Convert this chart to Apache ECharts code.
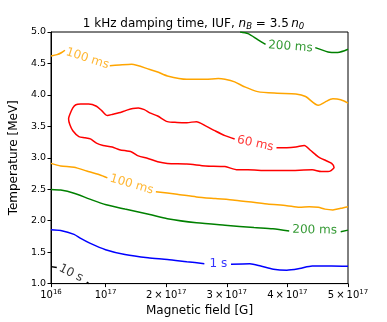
<!DOCTYPE html>
<html>
<head>
<meta charset="utf-8">
<script src="https://cdn.jsdelivr.net/npm/echarts@6/dist/echarts.min.js"></script>
<style>
html, body { margin: 0; padding: 0; background: #fff; }
#chart { width: 387px; height: 322px; }
</style>
</head>
<body>
<div id="chart"></div>
<script>
// magnetic field in units of 1e17 G, temperature in MeV
const xTicks = [0.1, 1, 2, 3, 4, 5]
const yTicks = [1.0, 1.5, 2.0, 2.5, 3.0, 3.5, 4.0, 4.5, 5.0]

// 100 ms, upper branch (split by its label)
const ms100TopA = [[0.10, 4.62], [0.20, 4.64], [0.27, 4.67], [0.33, 4.71]]
const ms100TopB = [[1.07, 4.465], [1.23, 4.476], [1.43, 4.487], [1.73, 4.403], [1.86, 4.363],
  [2.02, 4.301], [2.34, 4.248], [2.65, 4.248], [2.86, 4.259], [2.97, 4.248], [3.13, 4.207],
  [3.29, 4.13], [3.51, 4.052], [3.83, 4.026], [4.14, 4.015], [4.30, 3.974], [4.51, 3.834],
  [4.62, 3.886], [4.75, 3.937], [4.88, 3.922], [5.0, 3.87]]

// 200 ms, upper branch
const ms200TopA = [[3.22, 5.0], [3.35, 4.974], [3.51, 4.88], [3.64, 4.803]]
const ms200TopB = [[4.46, 4.751], [4.67, 4.683], [4.83, 4.674], [5.0, 4.725]]

// 60 ms, closed island (opened at its label)
const ms60Loop = [[3.82, 3.16], [3.99, 3.16], [4.14, 3.171], [4.28, 3.197], [4.38, 3.12],
  [4.51, 3.016], [4.64, 2.953], [4.73, 2.911], [4.77, 2.845], [4.72, 2.798], [4.67, 2.782],
  [4.56, 2.782], [4.41, 2.809], [3.99, 2.798], [3.67, 2.798], [3.35, 2.809], [3.18, 2.809],
  [2.97, 2.86], [2.65, 2.871], [2.34, 2.902], [2.02, 2.911], [1.86, 2.938], [1.70, 2.989],
  [1.54, 3.031], [1.43, 3.093], [1.23, 3.129], [1.11, 3.171], [0.96, 3.197], [0.85, 3.233],
  [0.75, 3.30], [0.66, 3.319], [0.56, 3.337], [0.46, 3.43], [0.41, 3.528], [0.39, 3.622],
  [0.41, 3.688], [0.46, 3.793], [0.51, 3.844], [0.59, 3.855], [0.72, 3.855], [0.85, 3.819],
  [0.94, 3.746], [1.03, 3.673], [1.12, 3.692], [1.22, 3.715], [1.34, 3.754], [1.45, 3.785],
  [1.54, 3.793], [1.64, 3.766], [1.73, 3.715], [1.86, 3.664], [2.02, 3.575], [2.18, 3.563],
  [2.34, 3.559], [2.50, 3.575], [2.65, 3.508], [2.81, 3.427], [2.97, 3.353], [3.13, 3.30]]

// 100 ms, lower branch
const ms100LowA = [[0.10, 2.911], [0.26, 2.871], [0.48, 2.849], [0.69, 2.79], [0.90, 2.731], [1.03, 2.681]]
const ms100LowB = [[1.83, 2.461], [2.18, 2.42], [2.50, 2.378], [2.81, 2.352], [3.13, 2.327],
  [3.67, 2.265], [3.99, 2.239], [4.20, 2.212], [4.36, 2.223], [4.51, 2.212], [4.62, 2.184],
  [4.75, 2.172], [4.88, 2.197], [5.0, 2.223]]

// 200 ms, lower branch
const ms200LowA = [[0.10, 2.498], [0.26, 2.487], [0.48, 2.436], [0.74, 2.343], [1.01, 2.254],
  [1.32, 2.185], [1.73, 2.098], [2.02, 2.032], [2.50, 1.967], [2.97, 1.928],
  [3.45, 1.892], [3.76, 1.873], [4.03, 1.835]]
const ms200LowB = [[4.88, 1.824], [5.0, 1.85]]

// 1 s
const s1A = [[0.10, 1.858], [0.26, 1.845], [0.48, 1.783], [0.59, 1.718], [0.74, 1.643],
  [1.00, 1.539], [1.32, 1.462], [1.70, 1.41], [2.02, 1.384], [2.34, 1.348], [2.63, 1.317]]
const s1B = [[3.07, 1.306], [3.38, 1.314], [3.56, 1.279], [3.77, 1.228], [3.99, 1.213],
  [4.20, 1.239], [4.41, 1.279], [4.73, 1.279], [5.0, 1.275]]

// 10 s
const s10A = [[0.10, 1.27], [0.195, 1.255]]
const s10B = [[0.69, 1.022], [0.73, 0.995]]

// contour label anchors
const labelText = ['100 ms', '200 ms', '60 ms', '100 ms', '200 ms', '1 s', '10 s']
const labelX = [0.70, 4.05, 3.47, 1.43, 4.45, 2.86, 0.43]
const labelY = [4.577, 4.767, 3.225, 2.576, 1.85, 1.306, 1.166]

const chart = echarts.init(document.getElementById('chart'))

const ORANGE = '#ffa500', RED = '#ff0000', GREEN = '#008000', BLUE = '#0000ff', BLACK = '#000000'
const labelStyle = [
  { color: ORANGE, rot: -18 },
  { color: GREEN, rot: -4 },
  { color: RED, rot: -12 },
  { color: ORANGE, rot: -16 },
  { color: GREEN, rot: -1 },
  { color: BLUE, rot: 0 },
  { color: BLACK, rot: -27 }
]

const parts = [
  [ms100TopA, ORANGE], [ms100TopB, ORANGE],
  [ms200TopA, GREEN], [ms200TopB, GREEN],
  [ms60Loop, RED],
  [ms100LowA, ORANGE], [ms100LowB, ORANGE],
  [ms200LowA, GREEN], [ms200LowB, GREEN],
  [s1A, BLUE], [s1B, BLUE],
  [s10A, BLACK], [s10B, BLACK]
]

const series = parts.map(([data, color]) => ({
  type: 'line',
  data: data,
  showSymbol: false,
  smooth: 0.25,
  lineStyle: { color: color, width: 1.5 },
  itemStyle: { color: color },
  silent: true
}))

series.push({
  type: 'scatter',
  symbolSize: 0,
  silent: true,
  z: 5,
  data: labelText.map((t, i) => ({
    value: [labelX[i], labelY[i]],
    label: {
      show: true,
      position: 'inside',
      formatter: t,
      rotate: labelStyle[i].rot,
      color: labelStyle[i].color,
      fontSize: 12,
      fontFamily: 'DejaVu Sans'
    }
  }))
})

const xLabel = v => {
  if (Math.abs(v - 0.1) < 1e-9) return '{b|10}{s|16}'
  if (Math.abs(v - 1) < 1e-9) return '{b|10}{s|17}'
  return '{b|' + v + '\u2009×\u200910}{s|17}'
}

const options = {
  animation: false,
  backgroundColor: '#fff',
  title: {
    text: '1 kHz damping time, IUF, {i|n}{s|B}{r| = 3.5\u2009}{i|n}{s|0}',
    left: 'center',
    top: 11,
    textStyle: {
      fontSize: 12,
      fontWeight: 'normal',
      color: '#000',
      fontFamily: 'DejaVu Sans',
      rich: {
        i: { fontSize: 12, fontStyle: 'italic', fontFamily: 'DejaVu Sans', color: '#000' },
        r: { fontSize: 12, fontFamily: 'DejaVu Sans', color: '#000' },
        s: { fontSize: 8.5, fontStyle: 'italic', fontFamily: 'DejaVu Sans', color: '#000', padding: [6, 0, 0, 0] }
      }
    }
  },
  grid: {
    left: 39,
    right: 39,
    top: 32,
    bottom: 32,
    show: true,
    borderColor: '#000',
    borderWidth: 1
  },
  xAxis: {
    type: 'value',
    min: 0.1,
    max: 5,
    name: 'Magnetic field [G]',
    nameLocation: 'middle',
    nameGap: 20,
    nameTextStyle: { fontSize: 12, color: '#000', fontFamily: 'DejaVu Sans' },
    axisLine: { lineStyle: { color: '#000', width: 1 } },
    axisTick: { customValues: xTicks, length: 3.5, lineStyle: { color: '#000' } },
    axisLabel: {
      customValues: xTicks,
      formatter: xLabel,
      margin: 5,
      color: '#000',
      fontFamily: 'DejaVu Sans',
      rich: {
        b: { fontSize: 10, color: '#000', fontFamily: 'DejaVu Sans' },
        s: { fontSize: 7, color: '#000', fontFamily: 'DejaVu Sans', padding: [0, 0, 6, 0] }
      }
    },
    splitLine: { show: false }
  },
  yAxis: {
    type: 'value',
    min: 1,
    max: 5,
    interval: 0.5,
    name: 'Temperature [MeV]',
    nameLocation: 'middle',
    nameGap: 27,
    nameTextStyle: { fontSize: 12, color: '#000', fontFamily: 'DejaVu Sans' },
    axisLine: { show: true, lineStyle: { color: '#000', width: 1 } },
    axisTick: { show: true, length: 3.5, lineStyle: { color: '#000' } },
    axisLabel: {
      formatter: v => v.toFixed(1),
      fontSize: 9.5,
      margin: 5,
      color: '#000',
      fontFamily: 'DejaVu Sans'
    },
    splitLine: { show: false }
  },
  series: series
}

chart.setOption(options)
</script>
</body>
</html>
